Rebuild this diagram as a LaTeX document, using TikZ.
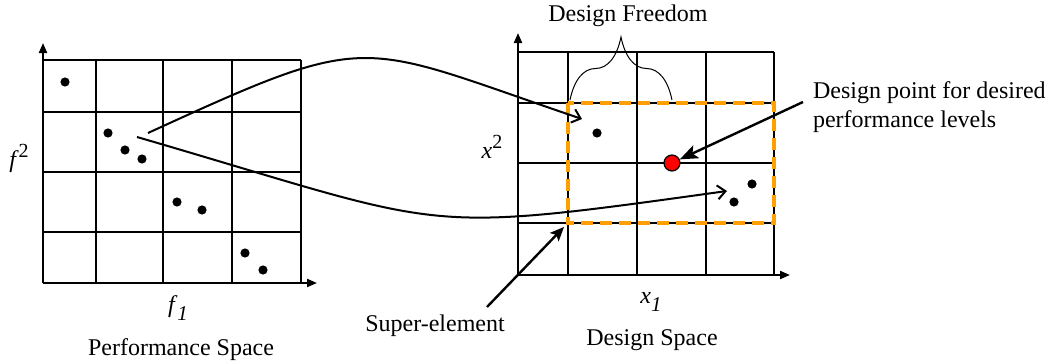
\documentclass[tikz,border=0pt]{standalone}
\usepackage{fontspec}
\setmainfont{Liberation Serif}
\usetikzlibrary{arrows.meta,decorations.pathreplacing}

\definecolor{boxorange}{RGB}{255,160,0}

\newcommand{\supnum}[1]{\raisebox{0.42em}{\fontsize{10}{10}\selectfont #1}}
\newcommand{\subnum}[1]{\raisebox{-0.3em}{\fontsize{10.5}{10}\selectfont\itshape #1}}

\begin{document}
\begin{tikzpicture}[x=0.5pt, y=-0.5pt,
	font=\fontsize{12}{14.5}\selectfont,
	gridline/.style={line width=0.55pt},
	axis/.style={line width=1pt, -{Triangle[length=5pt,width=4pt]}},
	mapcurve/.style={line width=1pt, -{Straight Barb[length=4pt,width=7pt]}},
	pointer/.style={line width=1.2pt, -{Stealth[length=9pt,width=7pt,inset=2pt]}},
	superbox/.style={boxorange, line width=2pt, dash pattern=on 6pt off 3.5pt},
	dot/.style={circle, fill=black, inner sep=0pt, minimum size=4.6pt}]
	
	\useasboundingbox (0,0) rectangle (1051,364);
	
	\coordinate (O_perf) at (43,283);
	\coordinate (O_des) at (518,275);
	
	% Performance space grid
	\draw[gridline] (43,60) -- (301,60);
	\foreach \gy in {112, 172, 232} {
		\draw[gridline] (43,\gy) -- (301,\gy);
	}
	\foreach \gx in {96, 163, 232, 301} {
		\draw[gridline] (\gx,60) -- (\gx,283);
	}
	
	% Design space grid
	\draw[gridline] (518,52) -- (774,52);
	\foreach \gy in {103, 163, 223} {
		\draw[gridline] (518,\gy) -- (774,\gy);
	}
	\foreach \gx in {568, 637, 706, 774} {
		\draw[gridline] (\gx,52) -- (\gx,275);
	}
	
	% Axes
	\draw[axis] (O_perf) -- (43,43);
	\draw[axis] (O_perf) -- (317,283);
	\draw[axis] (O_des) -- (518,33);
	\draw[axis] (O_des) -- (790,275);
	
	% Super-element in orange
	\draw[superbox] (568,103) rectangle (774,223);
	
	% Performance points
	\foreach \px/\py [count=\i] in {65/82, 108/133, 125/150, 142/159, 177/202, 202/210, 245/253, 263/270} {
		\node[dot] (p\i) at (\px,\py) {};
	}
	
	% Design points
	\foreach \px/\py [count=\i] in {597/133, 752/184, 734/202} {
		\node[dot] (d\i) at (\px,\py) {};
	}
	\node[circle, draw=black, fill=red, line width=0.6pt, inner sep=0pt, minimum size=8pt] (reddot) at (672,163) {};
	
	% Mapping curves
	\coordinate (up_start) at (148,133);
	\coordinate (up_end) at (582,119);
	\coordinate (low_start) at (137,137);
	\coordinate (low_end) at (727,191);
	\draw[mapcurve] (up_start) .. controls (375,29) and (355,42) .. (up_end);
	\draw[mapcurve] (low_start) .. controls (453,229) and (411,235) .. (low_end);
	
	% Design freedom brace
	\draw[line width=0.5pt, decorate, decoration={brace, amplitude=31.5pt}] (570,100) -- (672,100);
	
	% Labels
	\node (f2) at (19,158) {\textit{f}\supnum{2}};
	\node (f1) at (178,308) {\textit{f}\subnum{1}};
	\node (perf) at (181,350) {Performance Space};
	\node (x2) at (492,147) {\textit{x}\supnum{2}};
	\node (x1) at (651,302) {\textit{x}\subnum{1}};
	\node (des) at (652,340) {Design Space};
	\node (freedom) at (628,16) {Design Freedom};
	\node (selabel) at (435,326) {Super-element};
	\node[anchor=west, align=left] (dplabel) at (806,107) {Design point for desired\\performance levels};
	
	% Pointers
	\coordinate (se_from) at (487,307);
	\coordinate (se_tip) at (564,227);
	\draw[pointer, -{Stealth[length=7pt,width=6pt,inset=1.5pt]}] (se_from) -- (se_tip);
	\draw[pointer] ([shift={(-3,-5)}]dplabel.west) -- (reddot);
	
\end{tikzpicture}
\end{document}
